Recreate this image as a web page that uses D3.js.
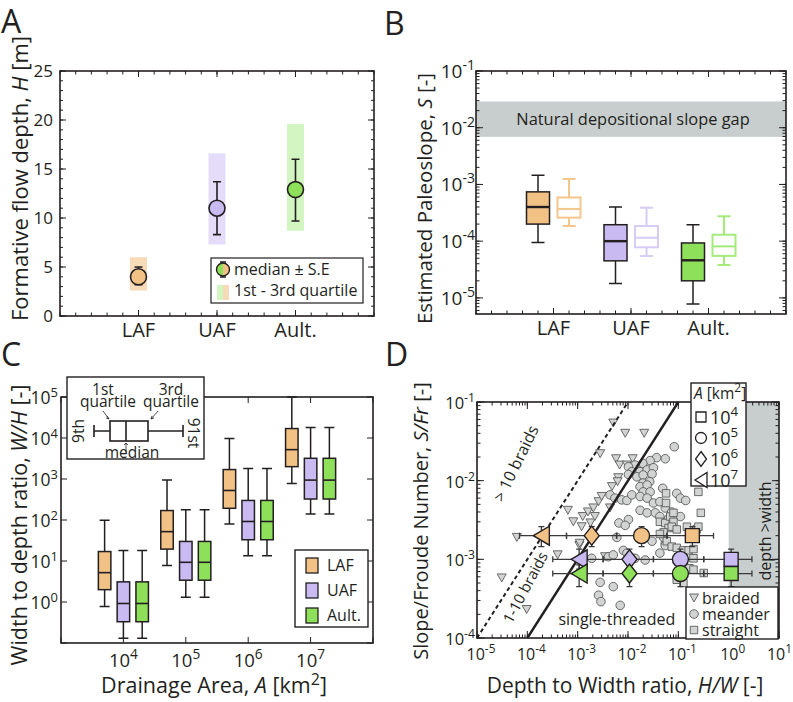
<!DOCTYPE html>
<html>
<head>
<meta charset="utf-8">
<script src="https://cdn.jsdelivr.net/npm/d3@7"></script>
<style>
  body { margin: 0; background: #fff; }
  svg { font-family: "Open Sans", Lato, sans-serif; }
</style>
</head>
<body>
<svg id="fig" width="793" height="702"></svg>
<script>
/* ---------- data ---------- */
const groups = ["LAF", "UAF", "Ault."];
const fillCol = ["#f2c185", "#c9baf2", "#8ee05a"];
const lightCol = ["#f7dab8", "#e4dcf9", "#d3f5c2"];
const hollowCol = ["#f4c68c", "#d6ccf5", "#a5eb7c"];

// A: formative flow depth [m]
const depthMedian = [4.0, 11.0, 12.9];
const depthSeLo = [3.2, 8.3, 9.7];
const depthSeHi = [5.0, 13.7, 16.0];
const depthQ1 = [2.6, 7.3, 8.7];
const depthQ3 = [6.0, 16.6, 19.6];

// B: paleoslope boxes [lower whisker, q1, median, q3, upper whisker]
const slopeFilled = [
  [9.5e-5, 2.0e-4, 4.0e-4, 7.4e-4, 1.45e-3],
  [1.8e-5, 4.5e-5, 1.0e-4, 1.95e-4, 4.0e-4],
  [7.8e-6, 2.0e-5, 4.6e-5, 9.3e-5, 1.95e-4]
];
const slopeHollow = [
  [1.85e-4, 2.6e-4, 3.7e-4, 5.9e-4, 1.25e-3],
  [5.5e-5, 7.8e-5, 1.15e-4, 1.85e-4, 3.9e-4],
  [3.8e-5, 5.5e-5, 8.1e-5, 1.3e-4, 2.75e-4]
];
const gapRange = [0.0069, 0.029];

// C: width/depth ratio boxes per drainage area
const areas = [1e4, 1e5, 1e6, 1e7];
const whLAF = [
  [0.78, 2.0, 5.2, 17, 98],
  [7.8, 19.5, 52, 170, 950],
  [80, 193, 525, 1700, 9700],
  [780, 2000, 5200, 17000, 100000]
];
const whUAF = [
  [0.13, 0.33, 0.92, 3.1, 18],
  [1.3, 3.4, 9.3, 30, 178],
  [13.4, 33, 92, 300, 1800],
  [140, 325, 940, 3200, 18000]
];
const whAult = [
  [0.13, 0.33, 0.92, 3.1, 18],
  [1.3, 3.4, 9.3, 30, 178],
  [13.4, 33, 92, 300, 1800],
  [140, 325, 940, 3200, 18000]
];

// D: modern rivers [H/W, S/Fr]
const braided = [
  [6.2e-5, 1.9e-3], [3.1e-5, 5.8e-4], [9.7e-5, 2.3e-4], [5.1e-3, 0.054],
  [8.8e-3, 0.040], [2.1e-2, 0.040], [2.8e-3, 0.022], [5.8e-3, 0.019],
  [6.8e-3, 0.0158], [9.5e-3, 0.0158], [1.24e-2, 0.019], [6.4e-3, 0.0109],
  [6.4e-4, 0.0042], [8.2e-4, 0.0030], [1.26e-3, 0.0035], [1.6e-3, 0.0040],
  [2.05e-3, 0.0045], [2.6e-3, 0.0054], [3.0e-3, 0.0063], [4.4e-3, 0.0045],
  [1.8e-3, 0.0029], [2.2e-3, 0.0035], [1.2e-3, 0.0026], [1.08e-3, 0.0015],
  [6.2e-3, 0.0097], [4.8e-3, 0.0084], [4.0e-4, 1.14e-3], [1.1e-3, 0.0016],
  [3.5e-3, 1.08e-3]
];
const meander = [
  [8.3e-2, 0.027], [3.7e-2, 0.0196], [5.5e-2, 0.019], [2.75e-2, 0.018],
  [1.97e-2, 0.0166], [1.38e-2, 0.0158], [1.02e-2, 0.015], [1.19e-2, 0.013],
  [1.74e-2, 0.013], [2.4e-2, 0.0137], [3.2e-2, 0.0146], [1.5e-2, 0.0112],
  [2.0e-2, 0.0118], [3.0e-2, 0.0122], [1.02e-2, 0.012], [1.97e-2, 0.0093],
  [2.7e-2, 0.0097], [1.74e-2, 0.0084], [2.4e-2, 0.0088], [2.0e-2, 0.0072],
  [2.75e-2, 0.0072], [4.9e-2, 0.0080], [9.3e-2, 0.0069], [0.11, 0.0060],
  [0.14, 0.0056], [4.4e-3, 0.0066], [5.5e-3, 0.0060], [7.5e-3, 0.0057],
  [9.5e-3, 0.0056], [1.19e-2, 0.0066], [1.74e-2, 0.0063], [2.4e-2, 0.0060],
  [3.2e-2, 0.0052], [4.3e-2, 0.0054], [5.5e-2, 0.0045], [1.74e-2, 0.0042],
  [2.4e-2, 0.0039], [3.5e-2, 0.0039], [4.3e-2, 0.0035], [6.4e-2, 0.0033],
  [0.11, 0.0035], [7.4e-2, 0.0040], [6.6e-3, 0.0029], [1.02e-2, 0.0032],
  [8.8e-3, 0.0027], [6.0e-3, 0.0019], [3.0e-2, 0.0017], [5.5e-2, 0.0016],
  [5.1e-2, 0.0019], [4.1e-3, 1.08e-3], [5.1e-3, 1.14e-3], [8.1e-3, 0.0013],
  [1.38e-2, 1.03e-3], [2.2e-2, 9.8e-4], [4.3e-2, 0.0012], [5.5e-2, 0.0015],
  [2.8e-3, 5.1e-4], [5.1e-3, 4.5e-4], [2.6e-3, 3.5e-4], [2.9e-3, 2.9e-4],
  [7.0e-3, 2.6e-4], [9.5e-3, 0.0012], [1.9e-3, 1.03e-3]
];
const straight = [
  [5.7e-2, 0.0069], [0.25, 0.0072], [0.28, 0.0039], [4.3e-2, 0.0030],
  [5.5e-2, 0.0029], [6.9e-2, 0.0035], [8.0e-2, 0.0039], [6.4e-2, 0.0025],
  [5.1e-2, 0.0022], [8.0e-2, 0.0030], [0.148, 0.0026], [0.23, 0.0024],
  [5.9e-2, 0.0017], [4.3e-2, 0.0021], [7.4e-2, 0.0026], [9.3e-2, 0.0024],
  [7.4e-2, 0.00145], [9.3e-2, 0.0014], [0.126, 0.0013], [0.16, 0.0013],
  [0.20, 0.00135], [0.166, 7.7e-4], [0.20, 7.4e-4], [0.32, 6.7e-4],
  [9.3e-2, 5.5e-4], [0.126, 5.0e-4], [0.20, 1.03e-3], [0.25, 0.0026],
  [5.7e-2, 0.0052]
];

// D: deposit medians, per group, per area (1e4, 1e5, 1e6, 1e7)
const sumHW = [
  [0.19, 0.0186, 0.0019, 1.9e-4],
  [1.12, 0.11, 0.0107, 1.07e-3],
  [1.12, 0.11, 0.0107, 1.07e-3]
];
const sumHWLo = [
  [0.06, 0.0059, 6.0e-4, 7.0e-5],
  [0.32, 0.032, 0.0032, 3.2e-4],
  [0.32, 0.032, 0.0032, 3.2e-4]
];
const sumHWHi = [
  [0.5, 0.059, 0.006, 6.0e-4],
  [2.9, 0.32, 0.032, 0.0032],
  [2.9, 0.32, 0.032, 0.0032]
];
const sumS = [2.0e-3, 1.0e-3, 6.6e-4];
const sumSLo = [1.45e-3, 7.5e-4, 4.5e-4];
const sumSHi = [2.6e-3, 1.35e-3, 8.5e-4];

/* ---------- helpers ---------- */
const svg = d3.select("#fig");
const ink = "#231f20";

function logMinor(lo, hi) {
  const out = [];
  for (let e = Math.floor(Math.log10(lo)); e <= Math.ceil(Math.log10(hi)); e++) {
    for (let m = 1; m < 10; m++) {
      const v = m * Math.pow(10, e);
      if (v >= lo * 0.999 && v <= hi * 1.001) out.push(v);
    }
  }
  return out;
}
function logMajor(lo, hi) {
  return logMinor(lo, hi).filter(v => Math.abs(Math.log10(v) - Math.round(Math.log10(v))) < 1e-6);
}
function ticksY(g, y, vals, len, w) {
  g.append("g").selectAll("path").data(vals).join("path")
    .attr("d", d => `M0,${y(d)}h${len}M${w},${y(d)}h${-len}`)
    .attr("stroke", ink).attr("stroke-width", 1);
}
function ticksX(g, x, vals, len, h) {
  g.append("g").selectAll("path").data(vals).join("path")
    .attr("d", d => `M${x(d)},${h}v${-len}M${x(d)},0v${len}`)
    .attr("stroke", ink).attr("stroke-width", 1);
}
function frame(g, w, h) {
  g.append("rect").attr("width", w).attr("height", h)
    .attr("fill", "none").attr("stroke", ink).attr("stroke-width", 1.6);
}
function pow10(sel, size) {
  sel.each(function (d) {
    const t = d3.select(this);
    t.append("tspan").text("10");
    t.append("tspan").attr("dy", -size * 0.42).attr("font-size", size * 0.74)
      .text(Math.round(Math.log10(d)));
  });
}
function sq(s) { return `M${-s / 2},${-s / 2}h${s}v${s}h${-s}Z`; }
function diamond(w, h) { return `M0,${-h / 2}L${w / 2},0L0,${h / 2}L${-w / 2},0Z`; }
function triLeft(w, h) { return `M${-w / 2},0L${w / 2},${-h / 2}L${w / 2},${h / 2}Z`; }
function triDown(w, h) { return `M${-w / 2},${-h / 2}H${w / 2}L0,${h / 2}Z`; }
function circ(r) { return `M${r},0A${r},${r} 0 1,1 ${-r},0A${r},${r} 0 1,1 ${r},0Z`; }

function panelLetter(x, y, s) {
  svg.append("text").attr("x", x).attr("y", y).attr("font-size", 32).attr("fill", ink).text(s);
}
panelLetter(1, 33, "A");
panelLetter(384, 35, "B");
panelLetter(1, 366, "C");
panelLetter(385, 366, "D");

/* ---------- A ---------- */
const pA = { l: 60, t: 71, w: 314, h: 245 };
const gA = svg.append("g").attr("transform", `translate(${pA.l},${pA.t})`);
const xA = d3.scaleLinear().domain([0, 4]).range([0, pA.w]);
const yA = d3.scaleLinear().domain([0, 25]).range([pA.h, 0]);

gA.selectAll(".qbar").data(groups).join("rect").attr("class", "qbar")
  .attr("x", (d, i) => xA(i + 1) - 8.5).attr("width", 17)
  .attr("y", (d, i) => yA(depthQ3[i]))
  .attr("height", (d, i) => yA(depthQ1[i]) - yA(depthQ3[i]))
  .attr("fill", (d, i) => lightCol[i]);

gA.selectAll(".se").data(groups).join("path").attr("class", "se")
  .attr("d", (d, i) => {
    const x = xA(i + 1), lo = yA(depthSeLo[i]), hi = yA(depthSeHi[i]);
    return `M${x},${lo}V${hi}M${x - 4},${lo}h8M${x - 4},${hi}h8`;
  })
  .attr("stroke", ink).attr("stroke-width", 1.6).attr("fill", "none");

gA.selectAll(".med").data(groups).join("circle").attr("class", "med")
  .attr("cx", (d, i) => xA(i + 1)).attr("cy", (d, i) => yA(depthMedian[i]))
  .attr("r", 8).attr("fill", (d, i) => fillCol[i])
  .attr("stroke", ink).attr("stroke-width", 1.6);

ticksY(gA, yA, d3.range(0, 26, 1), 3, pA.w);
ticksY(gA, yA, d3.range(0, 26, 5), 6, pA.w);
ticksX(gA, xA, d3.range(0, 4.01, 0.2), 3.5, pA.h);
ticksX(gA, xA, [1, 2, 3], 6, pA.h);
frame(gA, pA.w, pA.h);

gA.selectAll(".ylab").data(d3.range(0, 26, 5)).join("text")
  .attr("x", -7).attr("y", d => yA(d) + 6)
  .attr("text-anchor", "end").attr("font-size", 17).attr("fill", ink).text(d => d);
gA.selectAll(".xlab").data(groups).join("text")
  .attr("x", (d, i) => xA(i + 1)).attr("y", pA.h + 21)
  .attr("text-anchor", "middle").attr("font-size", 20).attr("fill", ink).text(d => d);

const tA = svg.append("text").attr("transform", `translate(28,${pA.t + pA.h / 2 - 15}) rotate(-90)`)
  .attr("text-anchor", "middle").attr("font-size", 22).attr("fill", ink);
tA.append("tspan").text("Formative flow depth, ");
tA.append("tspan").attr("font-style", "italic").text("H");
tA.append("tspan").text(" [m]");

// legend A
const lgA = gA.append("g").attr("transform", `translate(${151},${187})`);
lgA.append("rect").attr("width", 152).attr("height", 45).attr("fill", "#fff").attr("stroke", ink).attr("stroke-width", 1.2);
lgA.append("path").attr("d", "M12,4V19M9,4h6M9,19h6").attr("stroke", ink).attr("stroke-width", 1.4);
lgA.append("circle").attr("cx", 12).attr("cy", 11.5).attr("r", 6.5).attr("fill", fillCol[2]);
lgA.append("path").attr("d", "M12,5A6.5,6.5 0 0,1 12,18Z").attr("fill", fillCol[0]);
lgA.append("circle").attr("cx", 12).attr("cy", 11.5).attr("r", 6.5).attr("fill", "none").attr("stroke", ink).attr("stroke-width", 1.4);
lgA.append("rect").attr("x", 6).attr("y", 27).attr("width", 6).attr("height", 15).attr("fill", lightCol[2]);
lgA.append("rect").attr("x", 12).attr("y", 27).attr("width", 6).attr("height", 15).attr("fill", lightCol[0]);
lgA.append("text").attr("x", 23).attr("y", 17).attr("font-size", 16).attr("fill", ink).text("median \u00b1 S.E");
lgA.append("text").attr("x", 23).attr("y", 38).attr("font-size", 16).attr("fill", ink).text("1st - 3rd quartile");

/* ---------- B ---------- */
const pB = { l: 476, t: 71, w: 310, h: 243 };
const gB = svg.append("g").attr("transform", `translate(${pB.l},${pB.t})`);
const xB = d3.scaleLinear().domain([0, 4]).range([0, pB.w]);
const yB = d3.scaleLog().domain([5.2e-6, 0.1]).range([pB.h, 0]);

gB.append("rect").attr("x", 0).attr("width", pB.w)
  .attr("y", yB(gapRange[1])).attr("height", yB(gapRange[0]) - yB(gapRange[1]))
  .attr("fill", "#c7cecd");
gB.append("text").attr("x", pB.w / 2 + 2).attr("y", (yB(gapRange[0]) + yB(gapRange[1])) / 2 + 6)
  .attr("text-anchor", "middle").attr("font-size", 16.4).attr("fill", ink)
  .text("Natural depositional slope gap");

function boxPlot(g, cx, y, v, bw, cw, fill, stroke, sw, medCol, medW) {
  const bx = g.append("g");
  bx.append("path")
    .attr("d", `M${cx},${y(v[0])}V${y(v[1])}M${cx},${y(v[3])}V${y(v[4])}` +
      `M${cx - cw / 2},${y(v[0])}h${cw}M${cx - cw / 2},${y(v[4])}h${cw}`)
    .attr("stroke", stroke).attr("stroke-width", sw).attr("fill", "none");
  bx.append("rect").attr("x", cx - bw / 2).attr("width", bw)
    .attr("y", y(v[3])).attr("height", y(v[1]) - y(v[3]))
    .attr("fill", fill).attr("stroke", stroke).attr("stroke-width", sw);
  bx.append("line").attr("x1", cx - bw / 2).attr("x2", cx + bw / 2)
    .attr("y1", y(v[2])).attr("y2", y(v[2]))
    .attr("stroke", medCol).attr("stroke-width", medW);
}
groups.forEach((gname, i) => {
  boxPlot(gB, xB(i + 0.8), yB, slopeFilled[i], 23, 13, fillCol[i], ink, 1.5, ink, 2.4);
  boxPlot(gB, xB(i + 1.2), yB, slopeHollow[i], 23, 13, "#fff", hollowCol[i], 2, hollowCol[i], 2);
});

ticksY(gB, yB, logMinor(6e-6, 0.1), 3.5, pB.w);
ticksY(gB, yB, logMajor(1e-5, 0.1), 7, pB.w);
ticksX(gB, xB, d3.range(0, 4.01, 0.2), 3.5, pB.h);
ticksX(gB, xB, [1, 2, 3], 6, pB.h);
frame(gB, pB.w, pB.h);

gB.selectAll(".ylab").data(logMajor(1e-5, 0.1)).join("text")
  .attr("x", -1).attr("y", d => yB(d) + 7)
  .attr("text-anchor", "end").attr("font-size", 19).attr("fill", ink).call(pow10, 19);
gB.selectAll(".xlab").data(groups).join("text")
  .attr("x", (d, i) => xB(i + 1)).attr("y", pB.h + 21)
  .attr("text-anchor", "middle").attr("font-size", 20).attr("fill", ink).text(d => d);

const tB = svg.append("text").attr("transform", `translate(432,${pB.t + pB.h / 2 + 6}) rotate(-90)`)
  .attr("text-anchor", "middle").attr("font-size", 20.5).attr("fill", ink);
tB.append("tspan").text("Estimated Paleoslope, ");
tB.append("tspan").attr("font-style", "italic").text("S");
tB.append("tspan").text(" [-]");

/* ---------- C ---------- */
const pC = { l: 61, t: 397, w: 312, h: 246 };
const gC = svg.append("g").attr("transform", `translate(${pC.l},${pC.t})`);
const xC = d3.scaleLog().domain([1e3, 1e8]).range([0, pC.w]);
const yC = d3.scaleLog().domain([1e-1, 1e5]).range([pC.h, 0]);
const cSeries = [whLAF, whUAF, whAult];
const cShift = [0.5, 1, 2];

areas.forEach((a, k) => {
  cSeries.forEach((s, i) => {
    boxPlot(gC, xC(a * cShift[i]), yC, s[k], 12.5, 10, fillCol[i], ink, 1.5, ink, 1.6);
  });
});

ticksY(gC, yC, logMajor(1e-1, 1e5), 6, pC.w);
ticksX(gC, xC, logMajor(1e3, 1e8), 6, pC.h);
frame(gC, pC.w, pC.h);

gC.selectAll(".ylab").data(logMajor(1, 1e5)).join("text")
  .attr("x", -3).attr("y", d => yC(d) + 7)
  .attr("text-anchor", "end").attr("font-size", 17.5).attr("fill", ink).call(pow10, 17.5);
gC.selectAll(".xlab").data(areas).join("text")
  .attr("x", d => xC(d)).attr("y", pC.h + 24)
  .attr("text-anchor", "middle").attr("font-size", 18.5).attr("fill", ink).call(pow10, 18.5);

const tCy = svg.append("text").attr("transform", `translate(27,${pC.t + pC.h / 2 + 5}) rotate(-90)`)
  .attr("text-anchor", "middle").attr("font-size", 21.5).attr("fill", ink);
tCy.append("tspan").text("Width to depth ratio, ");
tCy.append("tspan").attr("font-style", "italic").text("W/H");
tCy.append("tspan").text(" [-]");
const tCx = svg.append("text").attr("x", pC.l + pC.w / 2 - 3).attr("y", 693)
  .attr("text-anchor", "middle").attr("font-size", 21.5).attr("fill", ink);
tCx.append("tspan").text("Drainage Area, ");
tCx.append("tspan").attr("font-style", "italic").text("A");
tCx.append("tspan").text(" [km");
tCx.append("tspan").attr("dy", -8).attr("font-size", 16).text("2");
tCx.append("tspan").attr("dy", 8).text("]");

// legend C
const lgC = svg.append("g").attr("transform", "translate(295,550)");
lgC.append("rect").attr("width", 73).attr("height", 77).attr("fill", "#fff").attr("stroke", ink).attr("stroke-width", 1.4);
groups.forEach((gname, i) => {
  lgC.append("rect").attr("x", 11).attr("y", 8 + i * 25).attr("width", 12).attr("height", 15)
    .attr("fill", fillCol[i]).attr("stroke", ink).attr("stroke-width", 1.3);
  lgC.append("text").attr("x", 32).attr("y", 21 + i * 25).attr("font-size", 16).attr("fill", ink).text(gname);
});

// inset key
const inC = svg.append("g").attr("transform", "translate(67,377)");
inC.append("rect").attr("width", 137).attr("height", 82).attr("fill", "#fff").attr("stroke", ink).attr("stroke-width", 1.4);
inC.append("path").attr("d", "M27,54H43M81,54H116M27,48v12M116,48v12")
  .attr("stroke", ink).attr("stroke-width", 1.6).attr("fill", "none");
inC.append("rect").attr("x", 43).attr("y", 44).attr("width", 38).attr("height", 20)
  .attr("fill", "#fff").attr("stroke", ink).attr("stroke-width", 1.6);
inC.append("line").attr("x1", 59).attr("x2", 59).attr("y1", 44).attr("y2", 64).attr("stroke", ink).attr("stroke-width", 1.6);
inC.append("path").attr("d", "M36,34L42,42M40,39l2,3l-3,-1M91,34L84,42M85,39l-1,3l3,-1M59,75V66M57,68l2,-2l2,2")
  .attr("stroke", ink).attr("stroke-width", 0.8).attr("fill", "none");
const inTxt = [["1st", 36, 18], ["quartile", 41, 30], ["3rd", 104, 18], ["quartile", 104, 30], ["median", 65, 81]];
inTxt.forEach(t => inC.append("text").attr("x", t[1]).attr("y", t[2]).attr("text-anchor", "middle")
  .attr("font-size", 15.5).attr("fill", ink).text(t[0]));
inC.append("text").attr("transform", "translate(17,54) rotate(-90)").attr("text-anchor", "middle")
  .attr("font-size", 15.5).attr("fill", ink).text("9th");
inC.append("text").attr("transform", "translate(121,56) rotate(90)").attr("text-anchor", "middle")
  .attr("font-size", 15.5).attr("fill", ink).text("91st");

/* ---------- D ---------- */
const pD = { l: 477, t: 402, w: 302, h: 236 };
const gD = svg.append("g").attr("transform", `translate(${pD.l},${pD.t})`);
const xD = d3.scaleLog().domain([1e-5, 1e1]).range([0, pD.w]);
const yD = d3.scaleLog().domain([1e-4, 1e-1]).range([pD.h, 0]);

gD.append("rect").attr("x", xD(1)).attr("width", xD(10) - xD(1))
  .attr("y", 0).attr("height", pD.h).attr("fill", "#c7cecd");

const ptStroke = "#5a5a5a", ptFill = "#d2d4d4";
gD.append("g").selectAll("path").data(braided).join("path")
  .attr("transform", d => `translate(${xD(d[0])},${yD(d[1])})`)
  .attr("d", triDown(9, 8)).attr("fill", ptFill).attr("stroke", ptStroke).attr("stroke-width", 0.9);
gD.append("g").selectAll("path").data(meander).join("path")
  .attr("transform", d => `translate(${xD(d[0])},${yD(d[1])})`)
  .attr("d", circ(4.3)).attr("fill", ptFill).attr("stroke", ptStroke).attr("stroke-width", 0.9);
gD.append("g").selectAll("path").data(straight).join("path")
  .attr("transform", d => `translate(${xD(d[0])},${yD(d[1])})`)
  .attr("d", sq(7.5)).attr("fill", ptFill).attr("stroke", ptStroke).attr("stroke-width", 0.9);

// channel pattern thresholds: S/Fr = H/W and S/Fr = 10 H/W
gD.append("line").attr("x1", xD(1e-4)).attr("y1", yD(1e-4)).attr("x2", xD(1e-1)).attr("y2", yD(1e-1))
  .attr("stroke", ink).attr("stroke-width", 2.4);
gD.append("line").attr("x1", xD(1e-5)).attr("y1", yD(1e-4)).attr("x2", xD(1e-2)).attr("y2", yD(1e-1))
  .attr("stroke", ink).attr("stroke-width", 2).attr("stroke-dasharray", "4,3");

// error bars
const markPath = [sq(14), circ(8), diamond(15, 19), triLeft(16, 19)];
groups.forEach((gname, i) => {
  const y = yD(sumS[i]);
  areas.forEach((a, k) => {
    const x = xD(sumHW[i][k]), x0 = xD(sumHWLo[i][k]), x1 = xD(sumHWHi[i][k]);
    const y0 = yD(sumSLo[i]), y1 = yD(sumSHi[i]);
    gD.append("path")
      .attr("d", `M${x0},${y}H${x1}M${x0},${y - 3}v6M${x1},${y - 3}v6M${x},${y0}V${y1}M${x - 3},${y0}h6M${x - 3},${y1}h6`)
      .attr("stroke", "#3a3a3a").attr("stroke-width", 1.3).attr("fill", "none");
  });
});
groups.forEach((gname, i) => {
  areas.forEach((a, k) => {
    gD.append("path").attr("transform", `translate(${xD(sumHW[i][k])},${yD(sumS[i])})`)
      .attr("d", markPath[k]).attr("fill", fillCol[i]).attr("stroke", ink).attr("stroke-width", 1.4);
  });
});

ticksY(gD, yD, logMinor(1e-4, 1e-1), 3.5, pD.w);
ticksY(gD, yD, logMajor(1e-4, 1e-1), 7, pD.w);
ticksX(gD, xD, logMinor(1e-5, 10), 3.5, pD.h);
ticksX(gD, xD, logMajor(1e-5, 10), 7, pD.h);
frame(gD, pD.w, pD.h);

gD.selectAll(".ylab").data(logMajor(1e-4, 1e-1)).join("text")
  .attr("x", -2).attr("y", d => yD(d) + 7)
  .attr("text-anchor", "end").attr("font-size", 16.5).attr("fill", ink).call(pow10, 16.5);
const xTicksD = logMajor(1e-5, 10);
gD.selectAll(".xlab").data(xTicksD).join("text")
  .attr("x", (d, i) => i === xTicksD.length - 1 ? pD.w + 13 : xD(d) + 4).attr("y", pD.h + 22)
  .attr("text-anchor", (d, i) => i === xTicksD.length - 1 ? "end" : "middle")
  .attr("font-size", 16).attr("fill", ink).call(pow10, 16);

gD.append("text").attr("x", xD(6e-3)).attr("y", pD.h - 13)
  .attr("text-anchor", "middle").attr("font-size", 16).attr("fill", ink).text("single-threaded");
svg.append("text").attr("transform", "translate(521,466) rotate(-64)")
  .attr("text-anchor", "middle").attr("font-size", 16).attr("fill", ink).text("> 10 braids");
svg.append("text").attr("transform", "translate(530,590) rotate(-62)")
  .attr("text-anchor", "middle").attr("font-size", 15).attr("fill", ink).text("1-10 braids");
svg.append("text").attr("transform", "translate(771,531) rotate(-90)")
  .attr("text-anchor", "middle").attr("font-size", 16).attr("fill", ink).text("depth >width");

const tDy = svg.append("text").attr("transform", `translate(428,${pD.t + pD.h / 2 + 1}) rotate(-90)`)
  .attr("text-anchor", "middle").attr("font-size", 20).attr("fill", ink);
tDy.append("tspan").text("Slope/Froude Number, ");
tDy.append("tspan").attr("font-style", "italic").text("S/Fr");
tDy.append("tspan").text(" [-]");
const tDx = svg.append("text").attr("x", pD.l + pD.w / 2 - 3).attr("y", 693)
  .attr("text-anchor", "middle").attr("font-size", 21).attr("fill", ink);
tDx.append("tspan").text("Depth to Width ratio, ");
tDx.append("tspan").attr("font-style", "italic").text("H/W");
tDx.append("tspan").text(" [-]");

// legend D: drainage area symbols
const lgD = svg.append("g").attr("transform", "translate(691,383)");
lgD.append("rect").attr("width", 55).attr("height", 103).attr("fill", "#fff").attr("stroke", ink).attr("stroke-width", 1.4);
const lgDt = lgD.append("text").attr("x", 3).attr("y", 16).attr("font-size", 15.5).attr("fill", ink);
lgDt.append("tspan").attr("font-style", "italic").text("A");
lgDt.append("tspan").text(" [km");
lgDt.append("tspan").attr("dy", -7).attr("font-size", 12).text("2");
lgDt.append("tspan").attr("dy", 7).text("]");
const legShapes = [sq(10), circ(5.5), diamond(11, 15), triLeft(12, 15)];
areas.forEach((a, k) => {
  lgD.append("path").attr("transform", `translate(10,${34 + k * 21})`).attr("d", legShapes[k])
    .attr("fill", "#fff").attr("stroke", ink).attr("stroke-width", 1.3);
});
lgD.selectAll(".al").data(areas).join("text")
  .attr("x", 19).attr("y", (d, k) => 41 + k * 21).attr("font-size", 18).attr("fill", ink).call(pow10, 18);

// legend D: channel pattern
const lgE = svg.append("g").attr("transform", "translate(686,587)");
lgE.append("rect").attr("width", 92).attr("height", 52).attr("fill", "#fff").attr("stroke", ink).attr("stroke-width", 1.4);
const patShapes = [triDown(9, 8), circ(4.3), sq(7.5)];
["braided", "meander", "straight"].forEach((s, k) => {
  lgE.append("path").attr("transform", `translate(8,${11 + k * 16})`).attr("d", patShapes[k])
    .attr("fill", ptFill).attr("stroke", ptStroke).attr("stroke-width", 0.9);
  lgE.append("text").attr("x", 16).attr("y", 17 + k * 16).attr("font-size", 16).attr("fill", ink).text(s);
});
</script>
</body>
</html>
